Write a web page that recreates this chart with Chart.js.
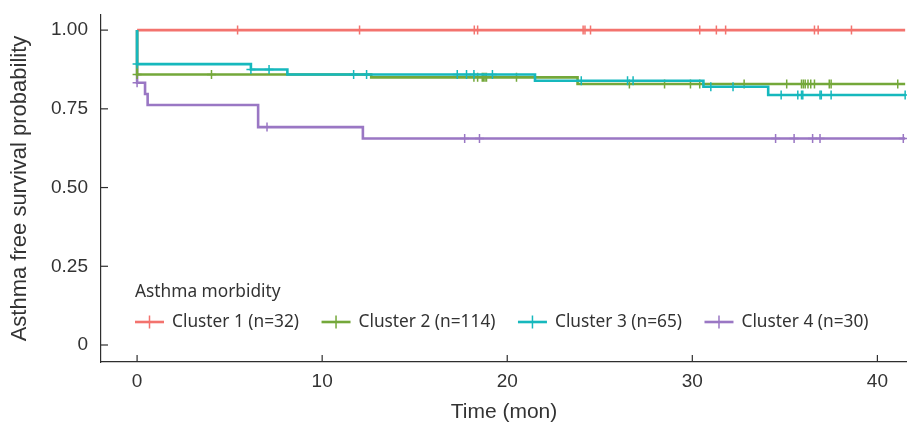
<!DOCTYPE html>
<html>
<head>
<meta charset="utf-8">
<script src="https://cdn.jsdelivr.net/npm/chart.js@4.4.1/dist/chart.umd.min.js"></script>
<style>
  html, body { margin: 0; padding: 0; background: #fff; }
  #wrap { width: 907px; height: 425px; }
</style>
</head>
<body>
<div id="wrap"><canvas id="kmChart" width="907" height="425"></canvas></div>
<script>
// Ejes
const xTicks = [0, 10, 20, 30, 40];
const yTicks = [0, 0.25, 0.5, 0.75, 1];

const clusterNames = ['Cluster 1 (n=32)', 'Cluster 2 (n=114)', 'Cluster 3 (n=65)', 'Cluster 4 (n=30)'];
const clusterColors = ['#F3736E', '#74A83A', '#16B8BD', '#9A77C4'];

// Curvas Kaplan-Meier: tiempo del escalon y supervivencia despues del escalon
const c1Times = [0, 41.5];
const c1Surv = [1, 1];
const c1Censor = [5.43, 12.02, 18.22, 18.4, 24.1, 24.2, 24.5, 30.4, 31.3, 31.8, 36.6, 36.8, 38.6];

const c2Times = [0, 0, 12.65, 23.8, 41.5];
const c2Surv = [1, 0.859, 0.850, 0.829, 0.829];
const c2Censor = [0, 4.02, 18.2, 18.4, 18.65, 18.72, 18.8, 18.88, 20.5, 26.6, 28.5, 29.9, 30.4,
                  32.8, 35.1, 35.9, 36.0, 36.1, 36.25, 36.4, 36.6, 37.4, 37.5, 41.1];

const c3Times = [0, 0, 6.15, 8.12, 21.5, 30.6, 34.1, 41.5];
const c3Surv = [1, 0.892, 0.875, 0.859, 0.839, 0.820, 0.794, 0.794];
const c3Censor = [0, 6.15, 7.13, 11.7, 12.4, 17.3, 17.8, 18.2, 19.2, 24.0, 26.5, 26.8, 31.0,
                  32.2, 34.8, 35.7, 35.9, 35.97, 36.9, 36.97, 37.5, 41.5];

const c4Times = [0, 0, 0.43, 0.57, 6.54, 12.2, 41.5];
const c4Surv = [1, 0.833, 0.797, 0.762, 0.692, 0.656, 0.656];
const c4Censor = [0, 7.02, 17.7, 18.5, 34.5, 35.5, 36.5, 36.9, 41.4];

const axisColor = '#2e2e2e';
const textColor = '#333333';

function survAt(times, surv, t) {
  let v = surv[0];
  for (let i = 0; i < times.length; i++) {
    if (times[i] <= t) v = surv[i];
  }
  return v;
}

function curveSet(times, surv, color) {
  return {
    data: times.map((t, i) => ({ x: t, y: surv[i] })),
    borderColor: color,
    borderWidth: 2.6,
    stepped: 'before',
    pointRadius: 0,
    fill: false
  };
}

function censorSet(times, surv, censor, color) {
  return {
    data: censor.map(t => ({ x: t, y: survAt(times, surv, t) })),
    showLine: false,
    pointStyle: 'cross',
    pointRadius: 4.5,
    pointBorderWidth: 1.5,
    pointBorderColor: color,
    borderColor: color
  };
}

// Ticks hacia adentro
const innerTicks = {
  id: 'innerTicks',
  afterDraw(chart) {
    const { ctx, chartArea, scales } = chart;
    ctx.save();
    ctx.strokeStyle = axisColor;
    ctx.lineWidth = 1.2;
    xTicks.forEach(v => {
      const px = scales.x.getPixelForValue(v);
      ctx.beginPath();
      ctx.moveTo(px, chartArea.bottom);
      ctx.lineTo(px, chartArea.bottom - 7);
      ctx.stroke();
    });
    yTicks.forEach(v => {
      const py = scales.y.getPixelForValue(v);
      ctx.beginPath();
      ctx.moveTo(chartArea.left, py);
      ctx.lineTo(chartArea.left + 7, py);
      ctx.stroke();
    });
    ctx.restore();
  }
};

// Leyenda dentro del area
const kmLegend = {
  id: 'kmLegend',
  afterDraw(chart) {
    const { ctx, chartArea } = chart;
    ctx.save();
    ctx.font = '17.3px "Noto Sans"';
    ctx.fillStyle = textColor;
    ctx.textBaseline = 'middle';
    ctx.textAlign = 'left';
    const x0 = chartArea.left + 34;
    ctx.fillText('Asthma morbidity', x0, chartArea.bottom - 70);
    let x = x0;
    const y = chartArea.bottom - 40;
    clusterNames.forEach((name, i) => {
      ctx.strokeStyle = clusterColors[i];
      ctx.lineWidth = 2.6;
      ctx.beginPath();
      ctx.moveTo(x, y);
      ctx.lineTo(x + 29, y);
      ctx.stroke();
      ctx.lineWidth = 1.5;
      ctx.beginPath();
      ctx.moveTo(x + 14.5, y - 6.5);
      ctx.lineTo(x + 14.5, y + 6.5);
      ctx.stroke();
      ctx.fillStyle = textColor;
      ctx.fillText(name, x + 37, y);
      x += 37 + ctx.measureText(name).width + 22.5;
    });
    ctx.restore();
  }
};

const ctx = document.getElementById('kmChart').getContext('2d');
new Chart(ctx, {
  type: 'line',
  data: {
    datasets: [
      censorSet(c3Times, c3Surv, c3Censor, clusterColors[2]),
      curveSet(c3Times, c3Surv, clusterColors[2]),
      censorSet(c2Times, c2Surv, c2Censor, clusterColors[1]),
      curveSet(c2Times, c2Surv, clusterColors[1]),
      censorSet(c1Times, c1Surv, c1Censor, clusterColors[0]),
      curveSet(c1Times, c1Surv, clusterColors[0]),
      censorSet(c4Times, c4Surv, c4Censor, clusterColors[3]),
      curveSet(c4Times, c4Surv, clusterColors[3])
    ]
  },
  options: {
    responsive: false,
    devicePixelRatio: 1,
    animation: false,
    layout: { autoPadding: false, padding: { top: 15, left: 0, right: 0, bottom: 0 } },
    plugins: {
      legend: { display: false },
      tooltip: { enabled: false }
    },
    scales: {
      x: {
        type: 'linear',
        min: -1.95,
        max: 41.6,
        afterBuildTicks: s => { s.ticks = xTicks.map(v => ({ value: v })); },
        afterFit: s => { s.height = 63; s.paddingLeft = 0; s.paddingRight = 0; },
        grid: { display: false, drawTicks: false },
        border: { display: true, color: axisColor, width: 1.2 },
        ticks: {
          padding: 8,
          color: textColor,
          font: { family: '"Liberation Sans"', size: 19 },
          maxRotation: 0
        },
        title: {
          display: true,
          text: 'Time (mon)',
          color: textColor,
          font: { family: '"Liberation Sans"', size: 21 },
          padding: { top: 0, bottom: 0 }
        }
      },
      y: {
        min: -0.054,
        max: 1.048,
        afterBuildTicks: s => { s.ticks = yTicks.map(v => ({ value: v })); },
        afterFit: s => { s.width = 101; s.paddingTop = 0; s.paddingBottom = 0; },
        grid: { display: false, drawTicks: false },
        border: { display: true, color: axisColor, width: 1.2 },
        ticks: {
          padding: 13,
          color: textColor,
          font: { family: '"Liberation Sans"', size: 19 },
          callback: v => (v === 0 ? '0' : v.toFixed(2))
        },
        title: {
          display: true,
          text: 'Asthma free survival probability',
          color: textColor,
          font: { family: '"Liberation Sans"', size: 22 },
          padding: { top: 7, bottom: 0 }
        }
      }
    }
  },
  plugins: [innerTicks, kmLegend]
});
</script>
</body>
</html>
